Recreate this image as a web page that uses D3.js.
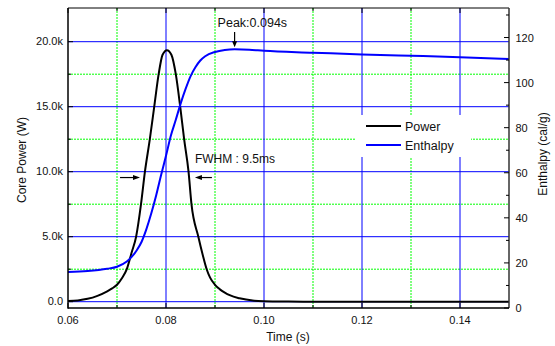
<!DOCTYPE html>
<html><head><meta charset="utf-8">
<script src="https://cdn.jsdelivr.net/npm/d3@7"></script>
<style>body{margin:0;background:#fff}svg{display:block}text{font-family:"Liberation Sans",Arial,sans-serif;fill:#111}</style>
</head><body>
<svg id="c" width="555" height="346"></svg>
<script>
const powerTime = [0.060,0.062,0.064,0.066,0.068,0.069,0.070,0.071,0.072,0.073,0.0739,0.0749,0.0757,0.0767,0.0776,0.0785,0.0793,0.0802,0.0811,0.0820,0.0829,0.0837,0.0846,0.0852,0.0866,0.0875,0.0883,0.089,0.090,0.091,0.092,0.093,0.095,0.098,0.100,0.105,0.110,0.150];
const powerW    = [50,100,220,450,800,1020,1300,1800,2500,3800,5000,7500,10000,12500,15000,17500,19000,19350,19000,17500,15000,12500,10000,7500,5000,3600,2500,1850,1300,950,700,500,260,80,40,10,0,0];
const enthTime  = [0.060,0.064,0.068,0.070,0.072,0.074,0.075,0.076,0.077,0.078,0.079,0.080,0.081,0.082,0.083,0.084,0.085,0.086,0.087,0.088,0.090,0.092,0.094,0.097,0.100,0.110,0.120,0.130,0.140,0.150];
const enthalpy  = [16.0,16.4,17.4,18.3,20.6,25.5,29.3,35,42,50,59,67.5,76.5,83.5,90.8,97.2,102.8,106.8,109.8,111.7,113.6,114.5,114.8,114.6,114.1,113.3,112.5,111.9,111.3,110.5];
const xTicks = [0.06,0.08,0.10,0.12,0.14];
const xMinor = [0.07,0.09,0.11,0.13];
const yLTicks = [0,5000,10000,15000,20000];
const yLLabels = ["0.0","5.0k","10.0k","15.0k","20.0k"];
const yLMinor = [2500,7500,12500,17500];
const yRTicks = [0,20,40,60,80,100,120];
const yRMinor = [10,30,50,70,90,110,130];
const seriesNames = ["Power","Enthalpy"];
const peakTime = 0.094, peakLabel = "Peak:0.094s";
const fwhmLabel = "FWHM : 9.5ms", fwhmLevel = 9550, fwhmLeft = 0.0747, fwhmRight = 0.0859;

const W=555,H=346,L=68,R=509,T=8,B=308;
const svg=d3.select("#c");
const x=d3.scaleLinear().domain([0.06,0.15]).range([L,R]);
const yL=d3.scaleLinear().domain([-485,22592]).range([B,T]);
const yR=d3.scaleLinear().domain([0,133.1]).range([B,T]);
const blue="#0000ff", green="#00ff00";

const g=svg.append("g");
g.selectAll(".gv").data(xMinor).join("line").attr("x1",d=>x(d)).attr("x2",d=>x(d)).attr("y1",T).attr("y2",B)
 .attr("stroke",green).attr("stroke-width",1).attr("stroke-dasharray","2,1");
g.selectAll(".gh").data(yLMinor).join("line").attr("x1",L).attr("x2",R).attr("y1",d=>yL(d)).attr("y2",d=>yL(d))
 .attr("stroke",green).attr("stroke-width",1).attr("stroke-dasharray","2,1");
g.selectAll(".bv").data(xTicks.slice(1)).join("line").attr("x1",d=>x(d)).attr("x2",d=>x(d)).attr("y1",T).attr("y2",B)
 .attr("stroke",blue).attr("stroke-width",1);
g.selectAll(".bh").data(yLTicks).join("line").attr("x1",L).attr("x2",R).attr("y1",d=>yL(d)).attr("y2",d=>yL(d))
 .attr("stroke",blue).attr("stroke-width",1);

const lg=svg.append("g");
lg.append("rect").attr("x",355).attr("y",115).attr("width",116).attr("height",42).attr("fill","#fff");

svg.append("clipPath").attr("id","pc").append("rect").attr("x",L).attr("y",T).attr("width",R-L).attr("height",B-T);
const pData=powerTime.map((t,i)=>[t,powerW[i]]);
const eData=enthTime.map((t,i)=>[t,enthalpy[i]]);
svg.append("path").attr("clip-path","url(#pc)").attr("d",d3.line().x(d=>x(d[0])).y(d=>yL(d[1])).curve(d3.curveMonotoneX)(pData))
 .attr("fill","none").attr("stroke","#000").attr("stroke-width",2);
svg.append("path").attr("clip-path","url(#pc)").attr("d",d3.line().x(d=>x(d[0])).y(d=>yR(d[1])).curve(d3.curveMonotoneX)(eData))
 .attr("fill","none").attr("stroke",blue).attr("stroke-width",2);

[["#000",126],[blue,145]].forEach((s,i)=>{
  lg.append("line").attr("x1",366).attr("x2",401).attr("y1",s[1]).attr("y2",s[1]).attr("stroke",s[0]).attr("stroke-width",2);
  lg.append("text").attr("x",405).attr("y",s[1]+4.5).attr("font-size",12.5).text(seriesNames[i]);
});

svg.append("line").attr("x1",L).attr("x2",R).attr("y1",T).attr("y2",T).attr("stroke","#000").attr("stroke-width",1);
svg.append("line").attr("x1",R).attr("x2",R).attr("y1",T).attr("y2",B).attr("stroke","#333").attr("stroke-width",1.5);
svg.append("line").attr("x1",L).attr("x2",L).attr("y1",T).attr("y2",B+0.75).attr("stroke","#000").attr("stroke-width",1.5);
svg.append("line").attr("x1",L).attr("x2",R).attr("y1",B).attr("y2",B).attr("stroke","#000").attr("stroke-width",1.5);

const tk=svg.append("g").attr("stroke","#000").attr("stroke-width",1);
xTicks.forEach(d=>{tk.append("line").attr("x1",x(d)).attr("x2",x(d)).attr("y1",B).attr("y2",B-5);
  tk.append("line").attr("x1",x(d)).attr("x2",x(d)).attr("y1",T).attr("y2",T+5);});
xMinor.forEach(d=>{tk.append("line").attr("x1",x(d)).attr("x2",x(d)).attr("y1",B).attr("y2",B-3);
  tk.append("line").attr("x1",x(d)).attr("x2",x(d)).attr("y1",T).attr("y2",T+3);});
yLTicks.forEach(d=>tk.append("line").attr("x1",L).attr("x2",L+5).attr("y1",yL(d)).attr("y2",yL(d)));
yLMinor.forEach(d=>tk.append("line").attr("x1",L).attr("x2",L+3).attr("y1",yL(d)).attr("y2",yL(d)));
yRTicks.forEach(d=>tk.append("line").attr("x1",R).attr("x2",R-5).attr("y1",yR(d)).attr("y2",yR(d)));
yRMinor.forEach(d=>tk.append("line").attr("x1",R).attr("x2",R-3).attr("y1",yR(d)).attr("y2",yR(d)));

const lb=svg.append("g").attr("font-size",11);
xTicks.forEach(d=>lb.append("text").attr("x",x(d)).attr("y",323.5).attr("text-anchor","middle").text(d3.format(".2f")(d)));
yLTicks.forEach((d,i)=>lb.append("text").attr("x",63).attr("y",yL(d)+3.8).attr("text-anchor","end").text(yLLabels[i]));
yRTicks.forEach(d=>lb.append("text").attr("x",515.5).attr("y",yR(d)+4).text(d));

svg.append("text").attr("font-size",12).attr("text-anchor","middle").attr("x",288).attr("y",341).text("Time (s)");
svg.append("text").attr("font-size",12).attr("text-anchor","middle").attr("transform","translate(26,160) rotate(-90)").text("Core Power (W)");
svg.append("text").attr("font-size",12).attr("text-anchor","middle").attr("transform","translate(547,154) rotate(-90)").text("Enthalpy (cal/g)");

const an=svg.append("g");
const px=x(peakTime), py=yR(114.8);
an.append("text").attr("x",px-17).attr("y",27).attr("font-size",12.5).text(peakLabel);
an.append("line").attr("x1",px).attr("x2",px).attr("y1",32).attr("y2",py-6).attr("stroke","#000").attr("stroke-width",1.2);
an.append("path").attr("d",`M${px-2.5},${py-8}L${px+2.5},${py-8}L${px},${py-2}Z`).attr("fill","#000");
const fy=yL(fwhmLevel), fl=x(fwhmLeft), fr=x(fwhmRight);
an.append("text").attr("x",fr).attr("y",fy-14.5).attr("font-size",12).text(fwhmLabel);
an.append("line").attr("x1",fl-20).attr("x2",fl-5).attr("y1",fy).attr("y2",fy).attr("stroke","#000").attr("stroke-width",1.2);
an.append("path").attr("d",`M${fl-7},${fy-2.5}L${fl-7},${fy+2.5}L${fl},${fy}Z`).attr("fill","#000");
an.append("line").attr("x1",fr+17).attr("x2",fr+5).attr("y1",fy).attr("y2",fy).attr("stroke","#000").attr("stroke-width",1.2);
an.append("path").attr("d",`M${fr+7},${fy-2.5}L${fr+7},${fy+2.5}L${fr},${fy}Z`).attr("fill","#000");
</script>
</body></html>
